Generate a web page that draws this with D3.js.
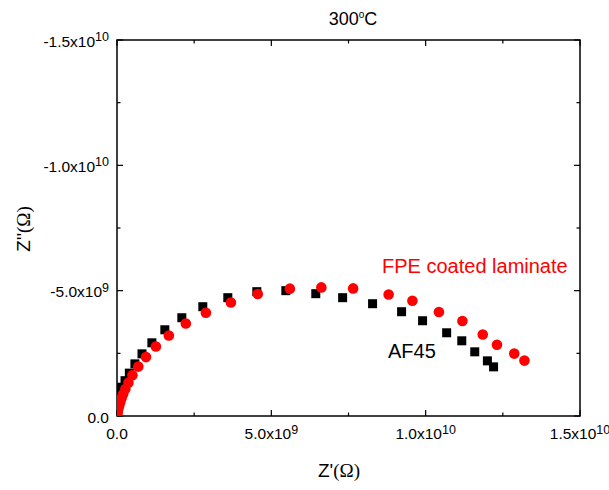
<!DOCTYPE html>
<html><head><meta charset="utf-8">
<script src="https://cdn.jsdelivr.net/npm/d3@7"></script>
<style>body{margin:0;background:#fff}text{font-family:"Liberation Sans",Arial,sans-serif}</style>
</head><body>
<svg id="c" width="609" height="490"></svg>
<script>
// Data (Z' in ohm, Z'' in ohm)
const af45Re = [12.2e9,12.0e9,11.59e9,11.17e9,10.68e9,9.90e9,9.22e9,8.28e9,7.31e9,6.44e9,5.47e9,4.53e9,3.59e9,2.78e9,2.10e9,1.55e9,1.13e9,0.81e9,0.58e9,0.40e9,0.26e9,0.15e9,0.10e9,0.06e9,0.035e9,0.02e9,0.01e9,0.005e9,0.002e9];
const af45Im = [-1.96e9,-2.2e9,-2.56e9,-3.0e9,-3.32e9,-3.8e9,-4.16e9,-4.48e9,-4.72e9,-4.88e9,-5.0e9,-4.96e9,-4.72e9,-4.36e9,-3.92e9,-3.44e9,-2.92e9,-2.48e9,-2.08e9,-1.71e9,-1.41e9,-1.15e9,-0.92e9,-0.70e9,-0.52e9,-0.37e9,-0.24e9,-0.14e9,-0.06e9];
const fpeRe = [13.2e9,12.87e9,12.31e9,11.85e9,11.19e9,10.43e9,9.57e9,8.80e9,7.65e9,6.62e9,5.60e9,4.56e9,3.69e9,2.88e9,2.23e9,1.68e9,1.26e9,0.94e9,0.69e9,0.50e9,0.37e9,0.27e9,0.20e9,0.15e9,0.11e9,0.08e9,0.055e9,0.035e9,0.02e9,0.01e9,0.004e9];
const fpeIm = [-2.21e9,-2.49e9,-2.84e9,-3.25e9,-3.79e9,-4.15e9,-4.6e9,-4.85e9,-5.09e9,-5.13e9,-5.08e9,-4.87e9,-4.53e9,-4.12e9,-3.69e9,-3.21e9,-2.77e9,-2.35e9,-1.97e9,-1.63e9,-1.33e9,-1.08e9,-0.88e9,-0.72e9,-0.58e9,-0.46e9,-0.35e9,-0.25e9,-0.16e9,-0.09e9,-0.03e9];
const xTicks = [0, 5e9, 1e10, 1.5e10];
const xTickMant = ["0.0","5.0x10","1.0x10","1.5x10"];
const xTickExp = ["","9","10","10"];
const yTicks = [0, -5e9, -1e10, -1.5e10];
const yTickMant = ["0.0","-5.0x10","-1.0x10","-1.5x10"];
const yTickExp = ["","9","10","10"];
const minorX = [2.5e9, 7.5e9, 1.25e10];
const minorY = [-2.5e9, -7.5e9, -1.25e10];

const svg = d3.select("#c");
const L=117, R=580, T=40, B=416;
const x = d3.scaleLinear().domain([0,1.5e10]).range([L,R]);
const y = d3.scaleLinear().domain([0,-1.5e10]).range([B,T]);

// ticks (inward on all four sides)
const tk = svg.append("g").attr("stroke","#000").attr("stroke-width",1.2);
xTicks.forEach(v=>{ tk.append("line").attr("x1",x(v)).attr("x2",x(v)).attr("y1",B).attr("y2",B-6);
  tk.append("line").attr("x1",x(v)).attr("x2",x(v)).attr("y1",T).attr("y2",T+6);});
minorX.forEach(v=>{ tk.append("line").attr("x1",x(v)).attr("x2",x(v)).attr("y1",B).attr("y2",B-3.5);
  tk.append("line").attr("x1",x(v)).attr("x2",x(v)).attr("y1",T).attr("y2",T+3.5);});
yTicks.forEach(v=>{ tk.append("line").attr("y1",y(v)).attr("y2",y(v)).attr("x1",L).attr("x2",L+6);
  tk.append("line").attr("y1",y(v)).attr("y2",y(v)).attr("x1",R).attr("x2",R-6);});
minorY.forEach(v=>{ tk.append("line").attr("y1",y(v)).attr("y2",y(v)).attr("x1",L).attr("x2",L+3.5);
  tk.append("line").attr("y1",y(v)).attr("y2",y(v)).attr("x1",R).attr("x2",R-3.5);});

svg.append("rect").attr("x",L).attr("y",T).attr("width",R-L).attr("height",B-T)
  .attr("fill","none").attr("stroke","#000").attr("stroke-width",1.5);

// tick labels
xTicks.forEach((v,i)=>{
  const t = svg.append("text").attr("x",x(v)).attr("y",439).attr("text-anchor","middle").attr("font-size",15.5);
  t.append("tspan").text(xTickMant[i]);
  if (xTickExp[i]) t.append("tspan").attr("dy",-5.5).attr("font-size",12.5).text(xTickExp[i]);
});
yTicks.forEach((v,i)=>{
  const t = svg.append("text").attr("x", L-8).attr("y",y(v)+6.5)
    .attr("text-anchor","end").attr("font-size",15.5);
  t.append("tspan").text(yTickMant[i]);
  if (yTickExp[i]) t.append("tspan").attr("dy",-5.5).attr("font-size",12.5).text(yTickExp[i]);
});

// axis titles
const xt = svg.append("text").attr("x",339).attr("y",477).attr("text-anchor","middle").attr("font-size",19);
xt.append("tspan").text("Z'");
xt.append("tspan").attr("font-family","'Liberation Serif','Times New Roman',serif").text("(Ω)");
const yt = svg.append("text").attr("transform","translate(30,229) rotate(-90)").attr("text-anchor","middle").attr("font-size",19);
yt.append("tspan").text("Z''");
yt.append("tspan").attr("font-family","'Liberation Serif','Times New Roman',serif").text("(Ω)");

// title
const tt = svg.append("text").attr("x",353).attr("y",25).attr("text-anchor","middle").attr("font-size",18);
tt.append("tspan").text("300");
tt.append("tspan").attr("dy",-7).attr("font-size",10).text("o");
tt.append("tspan").attr("dy",7).text("C");

// markers
svg.append("defs").append("clipPath").attr("id","pc").append("rect")
  .attr("x",L).attr("y",T).attr("width",R-L).attr("height",B-T);
const gm = svg.append("g").attr("clip-path","url(#pc)");
const s = 9;
gm.selectAll("rect.sq").data(af45Re.map((v,i)=>[v,af45Im[i]])).enter().append("rect")
  .attr("x",d=>x(d[0])-s/2).attr("y",d=>y(d[1])-s/2).attr("width",s).attr("height",s).attr("fill","#000");
gm.selectAll("circle").data(fpeRe.map((v,i)=>[v,fpeIm[i]])).enter().append("circle")
  .attr("cx",d=>x(d[0])).attr("cy",d=>y(d[1])).attr("r",5.3).attr("fill","#ff0000");

// annotations
svg.append("text").attr("x",382).attr("y",273).attr("font-size",20).attr("fill","#ff0000").text("FPE coated laminate");
svg.append("text").attr("x",388).attr("y",358).attr("font-size",20).attr("fill","#000").text("AF45");
</script>
</body></html>
